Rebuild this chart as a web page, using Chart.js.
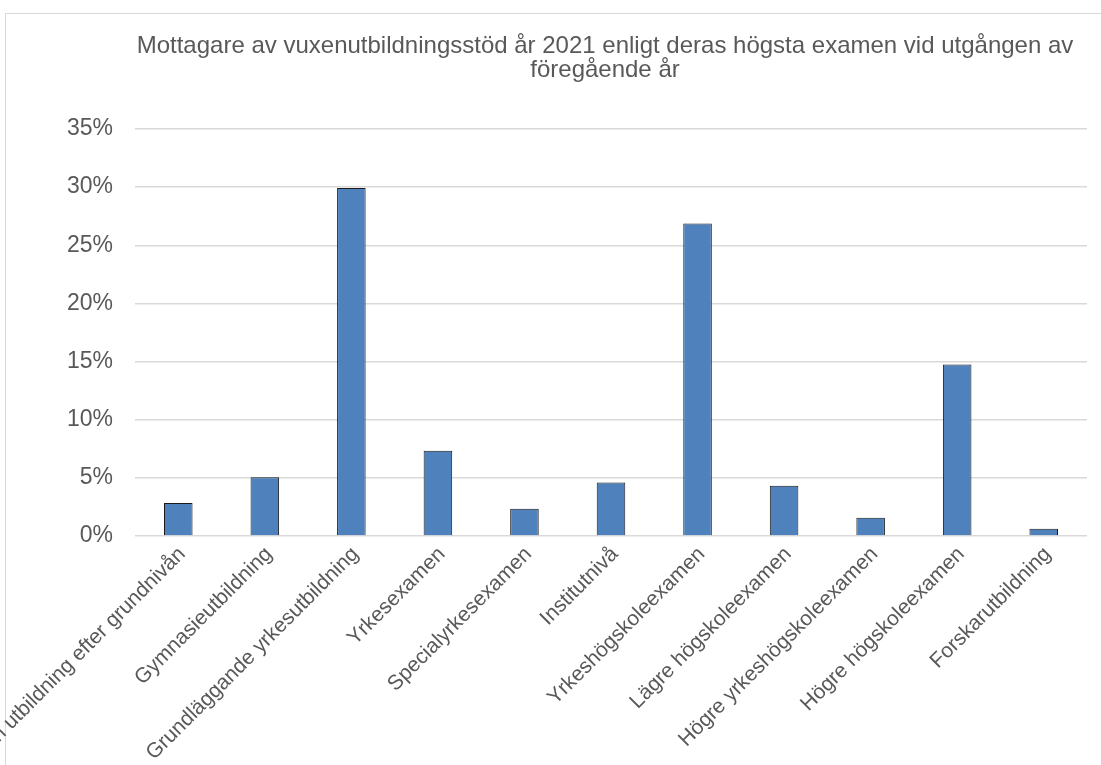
<!DOCTYPE html>
<html>
<head>
<meta charset="utf-8">
<script src="https://cdn.jsdelivr.net/npm/chart.js@4/dist/chart.umd.min.js"></script>
<style>
  html, body { margin: 0; padding: 0; background: #fff; overflow: hidden; }
  #frame { position: absolute; left: 5px; top: 13px; width: 1300px; height: 800px; border: 1px solid #d9d9d9; }
  #wrap { position: absolute; left: 0; top: 14px; width: 1210px; height: 751px; }
</style>
</head>
<body>
<div id="frame"></div>
<div id="wrap"><canvas id="chart"></canvas></div>
<script>
const titleLines = [
  'Mottagare av vuxenutbildningsstöd år 2021 enligt deras högsta examen vid utgången av',
  'föregående år'
]

const categories = [
  'Ingen utbildning efter grundnivån',
  'Gymnasieutbildning',
  'Grundläggande yrkesutbildning',
  'Yrkesexamen',
  'Specialyrkesexamen',
  'Institutnivå',
  'Yrkeshögskoleexamen',
  'Lägre högskoleexamen',
  'Högre yrkeshögskoleexamen',
  'Högre högskoleexamen',
  'Forskarutbildning'
]

// share of recipients, percent
const shares = [2.84, 5.05, 29.92, 7.34, 2.35, 4.59, 26.88, 4.33, 1.58, 14.74, 0.63]

const yMax = 35
const yStep = 5

const textColor = '#595959'
const font = 'Arial, "Liberation Sans", sans-serif'

new Chart(document.getElementById('chart'), {
  type: 'bar',
  data: {
    labels: categories,
    datasets: [
      {
        data: shares,
        backgroundColor: '#4f81bd',
        borderColor: '#1a1a1a',
        borderWidth: 1,
        borderSkipped: 'bottom',
        barPercentage: 0.33,
        categoryPercentage: 1
      }
    ]
  },
  options: {
    responsive: true,
    maintainAspectRatio: false,
    animation: false,
    plugins: {
      legend: { display: false },
      tooltip: { enabled: false },
      title: {
        display: true,
        text: titleLines,
        color: textColor,
        font: { family: font, size: 24, weight: 'normal', lineHeight: 1 },
        padding: { top: 20, bottom: 47 }
      }
    },
    scales: {
      x: {
        grid: { display: false },
        border: { display: false },
        ticks: {
          color: textColor,
          font: { family: font, size: 21 },
          maxRotation: 45,
          minRotation: 45,
          autoSkip: false,
          padding: -2,
          labelOffset: 4
        },
        afterFit: (scale) => {
          // keep the plot where the reference has it; the first label runs off the left edge
          scale.paddingLeft = 0
          scale.paddingRight = 123
          scale.height = 229
        }
      },
      y: {
        min: 0,
        max: yMax,
        grid: { color: '#d9d9d9', lineWidth: 1.5, drawTicks: false },
        border: { display: false },
        ticks: {
          stepSize: yStep,
          color: textColor,
          font: { family: font, size: 23 },
          padding: 22,
          callback: (value) => `${value}%`
        },
        afterFit: (scale) => {
          scale.width = 135
        }
      }
    }
  }
})
</script>
</body>
</html>
